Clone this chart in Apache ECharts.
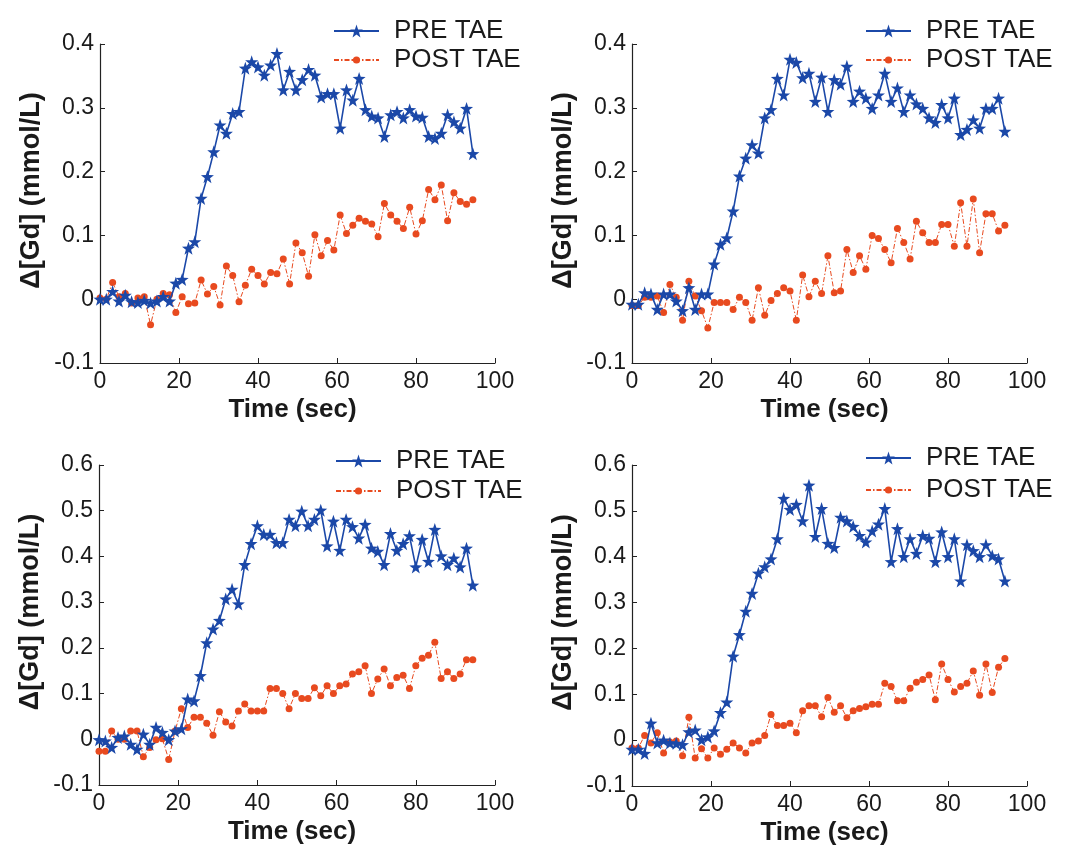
<!DOCTYPE html>
<html>
<head>
<meta charset="utf-8">
<script src="https://cdn.jsdelivr.net/npm/echarts@6/dist/echarts.min.js"></script>
<style>
html,body{margin:0;padding:0;background:#fff;}
#c{width:1071px;height:857px;}
</style>
</head>
<body>
<div id="c"></div>
<script>
// Time samples (sec)
var times = [0,1.6,3.2,4.8,6.4,8,9.6,11.2,12.8,14.4,16,17.6,19.2,20.8,22.4,24,25.6,27.2,28.8,30.4,32,33.6,35.2,36.8,38.4,40,41.6,43.2,44.8,46.4,48,49.6,51.2,52.8,54.4,56,57.6,59.2,60.8,62.4,64,65.6,67.2,68.8,70.4,72,73.6,75.2,76.8,78.4,80,81.6,83.2,84.8,86.4,88,89.6,91.2,92.8,94.4];

var seriesNames = ['PRE TAE', 'POST TAE'];
var xTicks = [0, 20, 40, 60, 80, 100];
var yRangeTop = [-0.1, 0.4];
var yRangeBottom = [-0.1, 0.6];

// Panel 1 (top left)
var pre1 = [0.0,0.0,0.012,-0.003,0.006,-0.004,-0.005,-0.002,-0.006,-0.003,0.004,-0.003,0.025,0.031,0.08,0.09,0.158,0.192,0.231,0.273,0.26,0.291,0.294,0.362,0.372,0.364,0.351,0.367,0.385,0.328,0.357,0.328,0.344,0.36,0.351,0.317,0.322,0.322,0.268,0.328,0.312,0.346,0.297,0.287,0.284,0.255,0.289,0.294,0.284,0.297,0.287,0.285,0.255,0.252,0.26,0.289,0.278,0.268,0.299,0.228];
var post1 = [0.002,0,0.026,0.004,0.009,-0.006,0.002,0.004,-0.04,0,0.009,0.007,-0.021,0.004,-0.007,-0.006,0.03,0.008,0.02,-0.009,0.052,0.037,-0.004,0.022,0.047,0.037,0.024,0.042,0.04,0.063,0.024,0.088,0.073,0.036,0.101,0.068,0.092,0.077,0.132,0.103,0.116,0.127,0.122,0.118,0.098,0.15,0.132,0.122,0.111,0.144,0.102,0.123,0.172,0.156,0.179,0.123,0.167,0.153,0.149,0.156];

// Panel 2 (top right)
var pre2 = [-0.008,-0.008,0.01,0.008,-0.016,0.008,0.008,-0.003,-0.018,0.018,-0.016,0.008,0.008,0.055,0.086,0.096,0.138,0.193,0.221,0.242,0.229,0.284,0.297,0.346,0.32,0.376,0.371,0.347,0.354,0.31,0.348,0.294,0.344,0.337,0.365,0.31,0.326,0.315,0.299,0.32,0.354,0.31,0.331,0.294,0.32,0.306,0.299,0.284,0.277,0.305,0.284,0.315,0.258,0.266,0.281,0.268,0.299,0.299,0.315,0.263];
var post2 = [-0.01,-0.01,0.003,0.003,0.005,-0.021,0.023,0.003,-0.033,0.028,0.005,-0.018,-0.045,-0.005,-0.005,-0.005,-0.016,0.003,-0.005,-0.033,0.018,-0.025,-0.002,0.009,0.018,0.013,-0.033,0.038,0.004,0.028,0.009,0.068,0.01,0.013,0.078,0.042,0.068,0.047,0.1,0.095,0.078,0.057,0.111,0.089,0.063,0.122,0.104,0.089,0.089,0.117,0.117,0.083,0.151,0.083,0.157,0.073,0.134,0.134,0.107,0.116];

// Panel 3 (bottom left)
var pre3 = [-0.001,-0.004,-0.018,0.004,0.007,-0.011,-0.022,0.011,-0.011,0.026,0.015,-0.001,0.018,0.023,0.088,0.084,0.139,0.211,0.241,0.26,0.307,0.328,0.296,0.382,0.428,0.467,0.448,0.448,0.43,0.43,0.481,0.467,0.499,0.467,0.481,0.501,0.423,0.477,0.413,0.481,0.465,0.44,0.47,0.418,0.411,0.382,0.45,0.413,0.428,0.445,0.377,0.437,0.389,0.459,0.401,0.382,0.396,0.377,0.418,0.337];
var post3 = [-0.026,-0.026,0.018,0,0,0.018,0.018,-0.038,-0.018,-0.001,0.001,-0.044,0.018,0.067,0.026,0.048,0.048,0.035,0.009,0.06,0.038,0.029,0.062,0.077,0.062,0.062,0.062,0.111,0.111,0.1,0.067,0.1,0.089,0.089,0.113,0.095,0.117,0.1,0.117,0.121,0.143,0.148,0.161,0.1,0.132,0.154,0.117,0.135,0.14,0.111,0.161,0.177,0.184,0.212,0.133,0.148,0.133,0.143,0.174,0.174];

// Panel 4 (bottom right)
var pre4 = [-0.02,-0.02,-0.029,0.037,-0.006,0,-0.006,-0.007,-0.01,0.018,0.022,0.001,0.007,0.02,0.06,0.083,0.183,0.23,0.281,0.32,0.364,0.378,0.395,0.439,0.527,0.503,0.514,0.478,0.556,0.444,0.505,0.429,0.42,0.486,0.478,0.466,0.446,0.432,0.456,0.471,0.505,0.389,0.461,0.4,0.439,0.407,0.446,0.44,0.389,0.454,0.4,0.439,0.347,0.426,0.413,0.4,0.426,0.402,0.395,0.347];
var post4 = [-0.017,-0.017,0.01,-0.006,0.016,-0.028,-0.004,-0.002,-0.034,0.05,-0.039,-0.019,-0.039,-0.017,-0.031,-0.02,-0.006,-0.017,-0.028,-0.006,-0.002,0.01,0.056,0.032,0.032,0.037,0.016,0.064,0.075,0.075,0.051,0.093,0.061,0.075,0.049,0.064,0.069,0.073,0.078,0.078,0.124,0.117,0.086,0.086,0.113,0.126,0.132,0.142,0.088,0.166,0.132,0.105,0.117,0.124,0.151,0.098,0.166,0.104,0.159,0.178];

var xLabel = 'Time (sec)';
var yLabel = 'Δ[Gd] (mmol/L)';

var FONT = '"Liberation Sans", Arial, sans-serif';
var BLUE = '#1b48a8';
var RED = '#e84a1f';
var STAR = 'path://M0,-10 L2.35,-3.24 L9.51,-3.09 L3.8,1.24 L5.88,8.09 L0,4 L-5.88,8.09 L-3.8,1.24 L-9.51,-3.09 L-2.35,-3.24 Z';

function pairs(v) { return v.map(function (y, i) { return [times[i], y]; }); }

var panels = [
  {pre: pre1, post: post1, yr: yRangeTop,    grid: {left: 100, top: 44,  width: 395, height: 319}, leg: {left: 333, top1: 18,  top2: 47}},
  {pre: pre2, post: post2, yr: yRangeTop,    grid: {left: 632, top: 44,  width: 395, height: 319}, leg: {left: 865, top1: 18,  top2: 47}},
  {pre: pre3, post: post3, yr: yRangeBottom, grid: {left: 99,  top: 465, width: 396, height: 320}, leg: {left: 335, top1: 448, top2: 478}},
  {pre: pre4, post: post4, yr: yRangeBottom, grid: {left: 632, top: 465, width: 395, height: 321}, leg: {left: 865, top1: 445, top2: 477}}
];

var option = {
  animation: false,
  backgroundColor: '#fff',
  grid: [], xAxis: [], yAxis: [], series: [], legend: []
};

var legText = {fontSize: 26, color: '#1a1a1a', fontFamily: FONT, padding: [0, 0, 0, 10]};

panels.forEach(function (p, k) {
  option.grid.push(p.grid);
  option.xAxis.push({
    type: 'value', gridIndex: k, min: xTicks[0], max: xTicks[xTicks.length - 1], interval: 20,
    axisLine: {show: true, onZero: false, lineStyle: {color: '#222', width: 1.2}},
    axisTick: {show: true, inside: true, length: 5, lineStyle: {color: '#222'}},
    splitLine: {show: false},
    axisLabel: {fontSize: 23, color: '#1a1a1a', fontFamily: FONT, margin: 7},
    name: xLabel, nameLocation: 'middle', nameGap: 34,
    nameTextStyle: {fontSize: 26, fontWeight: 'bold', color: '#1a1a1a', fontFamily: FONT, padding: [0, 10, 0, 0]}
  });
  option.yAxis.push({
    type: 'value', gridIndex: k, min: p.yr[0], max: p.yr[1], interval: 0.1,
    axisLine: {show: true, onZero: false, lineStyle: {color: '#222', width: 1.2}},
    axisTick: {show: true, inside: true, length: 5, lineStyle: {color: '#222'}},
    splitLine: {show: false},
    axisLabel: {fontSize: 23, color: '#1a1a1a', fontFamily: FONT, margin: 6,
      formatter: function (v) { return Math.abs(v) < 1e-9 ? '0' : (+v.toFixed(1)).toString(); }},
    name: yLabel, nameLocation: 'middle', nameGap: 55, nameRotate: 90,
    nameTextStyle: {fontSize: 27, fontWeight: 'bold', color: '#1a1a1a', fontFamily: FONT, padding: [0, 0, 0, 26]}
  });
  option.series.push({
    name: seriesNames[0], type: 'line', xAxisIndex: k, yAxisIndex: k,
    data: pairs(p.pre), symbol: STAR, symbolSize: 13,
    itemStyle: {color: BLUE}, lineStyle: {color: BLUE, width: 1.6}, z: 3
  });
  option.series.push({
    name: seriesNames[1], type: 'line', xAxisIndex: k, yAxisIndex: k,
    data: pairs(p.post), symbol: 'circle', symbolSize: 7,
    itemStyle: {color: RED}, lineStyle: {color: RED, width: 1, type: [5, 2, 1.5, 2]}, z: 2
  });
  option.legend.push({
    orient: 'vertical', left: p.leg.left, top: p.leg.top1, padding: 0,
    itemWidth: 45, itemHeight: 16, data: [seriesNames[0]], textStyle: legText
  });
  option.legend.push({
    orient: 'vertical', left: p.leg.left, top: p.leg.top2, padding: 0,
    itemWidth: 45, itemHeight: 9, data: [seriesNames[1]], textStyle: legText
  });
});

var chart = echarts.init(document.getElementById('c'), null, {renderer: 'canvas'});
chart.setOption(option);
</script>
</body>
</html>
